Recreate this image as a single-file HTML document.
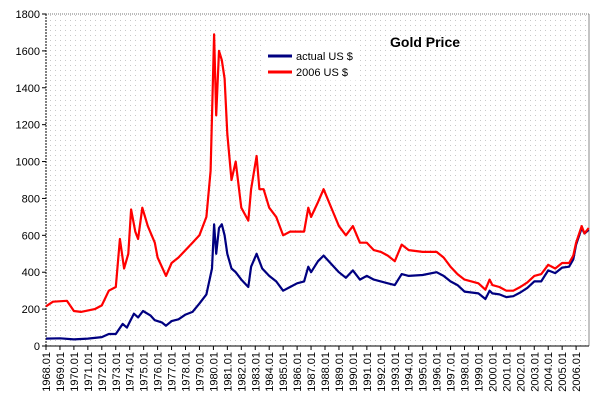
<!DOCTYPE html>
<html><head><meta charset="utf-8"><style>
body{margin:0;background:#fff;font-family:"Liberation Sans",Arial,sans-serif}
svg text{font-family:"Liberation Sans",Arial,sans-serif}
</style></head><body>
<svg id="c" width="600" height="406" xmlns="http://www.w3.org/2000/svg">
<defs><pattern id="dots" width="5" height="5" patternUnits="userSpaceOnUse"><rect x="0" y="0" width="1" height="1" fill="#c8c8c8"/></pattern></defs>
<rect x="46" y="14" width="543" height="332" fill="url(#dots)"/>
<line x1="46" y1="14" x2="589" y2="14" stroke="#777" stroke-dasharray="1,1"/>
<line x1="589" y1="14" x2="589" y2="346" stroke="#888"/>
<g id="axes"></g>
<g id="series"></g>
<g>
<rect x="263" y="44" width="93" height="36" fill="#fff" stroke="#fff"/>
<line x1="268" y1="56" x2="292" y2="56" stroke="#000080" stroke-width="3"/>
<text x="296" y="60" font-size="11">actual US $</text>
<line x1="268" y1="72" x2="292" y2="72" stroke="#ff0000" stroke-width="3"/>
<text x="296" y="76" font-size="11">2006 US $</text>
</g>
<text x="390" y="47" font-size="14" font-weight="bold">Gold Price</text>
</svg>
<script>
const years=[1968,1969,1970,1971,1972,1973,1974,1975,1976,1977,1978,1979,1980,1981,1982,1983,1984,1985,1986,1987,1988,1989,1990,1991,1992,1993,1994,1995,1996,1997,1998,1999,2000,2001,2002,2003,2004,2005,2006];
const yTicks=[0,200,400,600,800,1000,1200,1400,1600,1800];
const actualT=[1968,1969,1970,1971,1972,1972.5,1973,1973.5,1973.8,1974,1974.3,1974.6,1974.95,1975.5,1975.8,1976.3,1976.6,1977,1977.5,1978,1978.5,1979,1979.5,1979.9,1980.05,1980.2,1980.4,1980.6,1980.8,1981,1981.3,1981.6,1982,1982.5,1982.7,1983.1,1983.5,1984,1984.5,1985,1985.5,1986,1986.5,1986.8,1987,1987.5,1987.9,1988.5,1989,1989.5,1990,1990.5,1991,1991.5,1992,1992.5,1993,1993.5,1994,1995,1996,1996.5,1997,1997.5,1998,1998.5,1999,1999.5,1999.8,2000,2000.5,2001,2001.5,2002,2002.5,2003,2003.5,2004,2004.5,2005,2005.5,2005.8,2006,2006.4,2006.6,2006.9];
const actualV=[40,42,36,40,48,65,65,120,100,130,175,155,190,165,140,128,110,135,145,170,185,230,280,420,660,500,640,660,600,500,420,400,360,320,430,500,420,380,350,300,320,340,350,430,400,460,490,440,400,370,410,360,380,360,350,340,330,390,380,385,400,380,350,330,295,290,285,255,300,285,280,265,270,290,315,350,350,410,395,425,430,470,550,640,610,630];
const realT=[1968,1968.5,1969.5,1970,1970.5,1971.5,1972,1972.5,1973,1973.3,1973.6,1973.9,1974.1,1974.4,1974.6,1974.9,1975.3,1975.8,1976,1976.6,1977,1977.5,1978,1978.5,1979,1979.5,1979.8,1980.05,1980.2,1980.4,1980.6,1980.8,1981,1981.3,1981.6,1982,1982.5,1982.7,1983.1,1983.3,1983.6,1984,1984.5,1985,1985.5,1986,1986.5,1986.8,1987,1987.5,1987.9,1988.5,1989,1989.5,1990,1990.5,1991,1991.5,1992,1992.5,1993,1993.5,1994,1995,1996,1996.5,1997,1997.5,1998,1998.5,1999,1999.5,1999.8,2000,2000.5,2001,2001.5,2002,2002.5,2003,2003.5,2004,2004.5,2005,2005.5,2005.8,2006,2006.4,2006.6,2006.9];
const realV=[215,240,245,190,185,200,220,300,320,580,420,500,740,620,580,750,650,560,480,380,450,480,520,560,600,700,950,1690,1250,1600,1550,1450,1150,900,1000,750,680,850,1030,850,850,750,700,600,620,620,620,750,700,780,850,740,650,600,650,560,560,520,510,490,460,550,520,510,510,480,430,390,360,350,340,305,360,330,320,300,300,320,345,380,390,440,420,450,450,490,560,650,610,640];
const NS="http://www.w3.org/2000/svg";
const X=t=>46+(t-1968)*13.95, Y=v=>346-v*332/1800;
const ax=document.getElementById('axes'), se=document.getElementById('series');
function mk(tag,attrs,parent){const e=document.createElementNS(NS,tag);for(const k in attrs)e.setAttribute(k,attrs[k]);parent.appendChild(e);return e;}
let yl=mk('line',{x1:46,y1:14,x2:46,y2:346,stroke:'#000','stroke-dasharray':'2,1'},ax);


let xl=mk('line',{x1:46,y1:346,x2:589,y2:346,stroke:'#000'},ax);


yTicks.forEach(v=>{
 let t=mk('line',{x1:42,y1:Y(v),x2:46,y2:Y(v),stroke:'#000'},ax);
 
 
 let l=mk('text',{x:40,y:Y(v)+4,'font-size':11,'text-anchor':'end'},ax);l.textContent=v;
 
 
});
years.forEach(yr=>{
 let t=mk('line',{x1:X(yr),y1:346,x2:X(yr),y2:350,stroke:'#000'},ax);
 
 
 let l=mk('text',{x:0,y:0,'font-size':11,'text-anchor':'end',transform:`translate(${X(yr)+4},352) rotate(-90)`},ax);l.textContent=yr+'.01';
 
 
});
function line(T,V,col,name){
 const d=T.map((t,i)=>(i?'L':'M')+X(t).toFixed(1)+','+Y(V[i]).toFixed(1)).join('');
 let p=mk('path',{d:d,fill:'none',stroke:col,'stroke-width':2.2,'stroke-linejoin':'round'},se);
 
 
}
line(actualT,actualV,'#000080','series-actual-usd');
line(realT,realV,'#ff0000','series-2006-usd');
</script>
</body></html>
